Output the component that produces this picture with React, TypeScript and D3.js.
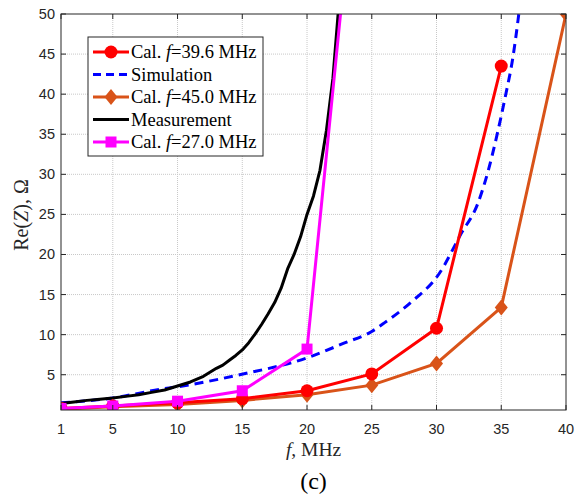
import React from 'react';
import * as d3 from 'd3';

// frequencies of the calculated points, MHz
const calFreqs = [1, 5, 10, 15, 20, 25, 30, 35, 40];
const cal396 = [0.8, 1.1, 1.5, 2.0, 3.0, 5.1, 10.8, 43.5];
const cal450 = [0.7, 1.0, 1.3, 1.8, 2.5, 3.7, 6.4, 13.4, 50];
const cal270 = [0.8, 1.1, 1.7, 3.0, 8.2, 89];

// simulation curve
const simFreqs = [1, 5, 8.7, 10, 14.8, 20, 22.8, 25, 26, 28, 30.2, 31.9, 33.2, 34, 34.7, 35.3, 35.9, 36.3, 36.5];
const simValues = [1.5, 2.1, 3.2, 3.5, 5.0, 7.1, 8.9, 10.4, 11.5, 14, 17.6, 22.6, 26.4, 30.5, 35.1, 39.6, 44.6, 49.3, 52];

const measFreqs = [1, 2, 3, 4, 5, 6, 7, 8, 9, 10, 11, 12, 12.5, 13, 13.5, 14, 14.5, 15, 15.5, 16, 16.5, 17, 17.5, 18, 18.5, 19, 19.5, 20, 20.5, 21, 21.5, 22, 22.4, 22.6];
const measValues = [1.4, 1.6, 1.8, 1.95, 2.1, 2.3, 2.5, 2.8, 3.1, 3.6, 4.1, 4.8, 5.3, 5.8, 6.2, 6.8, 7.4, 8.1, 9.0, 10.1, 11.3, 12.6, 14.0, 15.8, 18.2, 20.0, 22.2, 25.0, 27.3, 30.5, 35.5, 42, 50, 53];

const xTicks = [1, 5, 10, 15, 20, 25, 30, 35, 40];
const yTicks = [5, 10, 15, 20, 25, 30, 35, 40, 45, 50];

const legendItems = [
  { pre: 'Cal. ', it: 'f', post: '=39.6 MHz', color: '#FF0000', dash: '', marker: 'circle' },
  { pre: 'Simulation', it: '', post: '', color: '#0000FF', dash: '8,5', marker: '' },
  { pre: 'Cal. ', it: 'f', post: '=45.0 MHz', color: '#D95319', dash: '', marker: 'diamond' },
  { pre: 'Measurement', it: '', post: '', color: '#000000', dash: '', marker: '' },
  { pre: 'Cal. ', it: 'f', post: '=27.0 MHz', color: '#FF00FF', dash: '', marker: 'square' },
];

const W = 582;
const H = 496;
const margin = { top: 14, right: 16, bottom: 86, left: 61 };
const iw = W - margin.left - margin.right;
const ih = H - margin.top - margin.bottom;

const x = d3.scaleLinear().domain([1, 40]).range([0, iw]);
const y = d3.scaleLinear().domain([0.6, 50]).range([ih, 0]);

const pairs = (xs: number[], ys: number[]) => ys.map((v, i) => [xs[i], v] as [number, number]);

const line = d3.line<[number, number]>().x(d => x(d[0])).y(d => y(d[1]));
const smooth = d3.line<[number, number]>().x(d => x(d[0])).y(d => y(d[1])).curve(d3.curveMonotoneX);

function Marker({ kind, cx, cy, color }: { kind: string; cx: number; cy: number; color: string }) {
  if (kind === 'circle') return <circle cx={cx} cy={cy} r={6.5} fill={color} />;
  if (kind === 'square') return <rect x={cx - 5.5} y={cy - 5.5} width={11} height={11} fill={color} />;
  if (kind === 'diamond')
    return <path d={`M${cx},${cy - 8}L${cx + 6.5},${cy}L${cx},${cy + 8}L${cx - 6.5},${cy}Z`} fill={color} />;
  return null;
}

export default function App() {
  const red = pairs(calFreqs, cal396);
  const orange = pairs(calFreqs, cal450);
  const magenta = pairs(calFreqs, cal270);
  const sim = pairs(simFreqs, simValues);
  const meas = pairs(measFreqs, measValues);

  const tickFont = { fontFamily: 'Liberation Sans, Arial, sans-serif', fontSize: 14.5, fill: '#262626' };
  const serif = 'Liberation Serif, Times New Roman, serif';

  return (
    <svg width={W} height={H} style={{ position: 'absolute', left: 0, top: 0, background: '#fff' }}>
      <defs>
        <clipPath id="plotclip">
          <rect x={0} y={0} width={iw} height={ih} />
        </clipPath>
      </defs>
      <g transform={`translate(${margin.left},${margin.top})`}>
        {/* grid */}
        {xTicks.slice(1, -1).map(t => (
          <line key={'gx' + t} x1={x(t)} x2={x(t)} y1={0} y2={ih} stroke="#c8c8c8" strokeDasharray="1,1" />
        ))}
        {yTicks.slice(0, -1).map(t => (
          <line key={'gy' + t} x1={0} x2={iw} y1={y(t)} y2={y(t)} stroke="#c8c8c8" strokeDasharray="1,1" />
        ))}

        {/* series */}
        <g clipPath="url(#plotclip)">
          <path d={smooth(sim) || ''} fill="none" stroke="#0000FF" strokeWidth={3} strokeDasharray="9,6" />
          <path d={line(meas) || ''} fill="none" stroke="#000" strokeWidth={3} strokeLinejoin="round" />
          <path d={line(orange) || ''} fill="none" stroke="#D95319" strokeWidth={3} />
          {orange.map((d, i) => (
            <Marker key={'o' + i} kind="diamond" cx={x(d[0])} cy={y(d[1])} color="#D95319" />
          ))}
          <path d={line(red) || ''} fill="none" stroke="#FF0000" strokeWidth={3} />
          {red.map((d, i) => (
            <Marker key={'r' + i} kind="circle" cx={x(d[0])} cy={y(d[1])} color="#FF0000" />
          ))}
          <path d={line(magenta) || ''} fill="none" stroke="#FF00FF" strokeWidth={3} />
          {magenta.map((d, i) => (
            <Marker key={'m' + i} kind="square" cx={x(d[0])} cy={y(d[1])} color="#FF00FF" />
          ))}
        </g>

        {/* axes box + ticks */}
        <rect x={0} y={0} width={iw} height={ih} fill="none" stroke="#262626" strokeWidth={1} />
        {xTicks.map(t => (
          <g key={'xt' + t}>
            <line x1={x(t)} x2={x(t)} y1={ih} y2={ih - 5} stroke="#262626" />
            <line x1={x(t)} x2={x(t)} y1={0} y2={5} stroke="#262626" />
            <text x={x(t)} y={ih + 24} textAnchor="middle" {...tickFont}>{t}</text>
          </g>
        ))}
        {yTicks.map(t => (
          <g key={'yt' + t}>
            <line x1={0} x2={5} y1={y(t)} y2={y(t)} stroke="#262626" />
            <line x1={iw} x2={iw - 5} y1={y(t)} y2={y(t)} stroke="#262626" />
            <text x={-6} y={y(t) + 5} textAnchor="end" {...tickFont}>{t}</text>
          </g>
        ))}

        {/* legend */}
        <g transform="translate(27,23)">
          <rect x={0} y={0} width={175} height={119} fill="#fff" stroke="#262626" strokeWidth={1} />
          {legendItems.map((it, i) => {
            const ly = 15 + i * 22.5;
            return (
              <g key={'lg' + i}>
                <line x1={5} x2={41} y1={ly} y2={ly} stroke={it.color} strokeWidth={3}
                  strokeDasharray={it.dash || undefined} />
                {it.marker && <Marker kind={it.marker} cx={23} cy={ly} color={it.color} />}
                <text x={43} y={ly + 6} fontFamily={serif} fontSize={18.5} fill="#000">
                  {it.pre}
                  {it.it && <tspan fontStyle="italic">{it.it}</tspan>}
                  {it.post}
                </text>
              </g>
            );
          })}
        </g>

        {/* axis labels */}
        <text x={iw / 2} y={ih + 46} textAnchor="middle" fontFamily={serif} fontSize={19.5} fill="#262626">
          <tspan fontStyle="italic">f</tspan>, MHz
        </text>
        <text transform={`translate(${-33},${ih / 2 + 3}) rotate(-90)`} textAnchor="middle"
          fontFamily={serif} fontSize={20} fill="#262626">
          Re(<tspan fontStyle="italic">Z</tspan>), Ω
        </text>
      </g>
      <text x={margin.left + iw / 2} y={489} textAnchor="middle" fontFamily={serif} fontSize={24} fill="#000">(c)</text>
    </svg>
  );
}
